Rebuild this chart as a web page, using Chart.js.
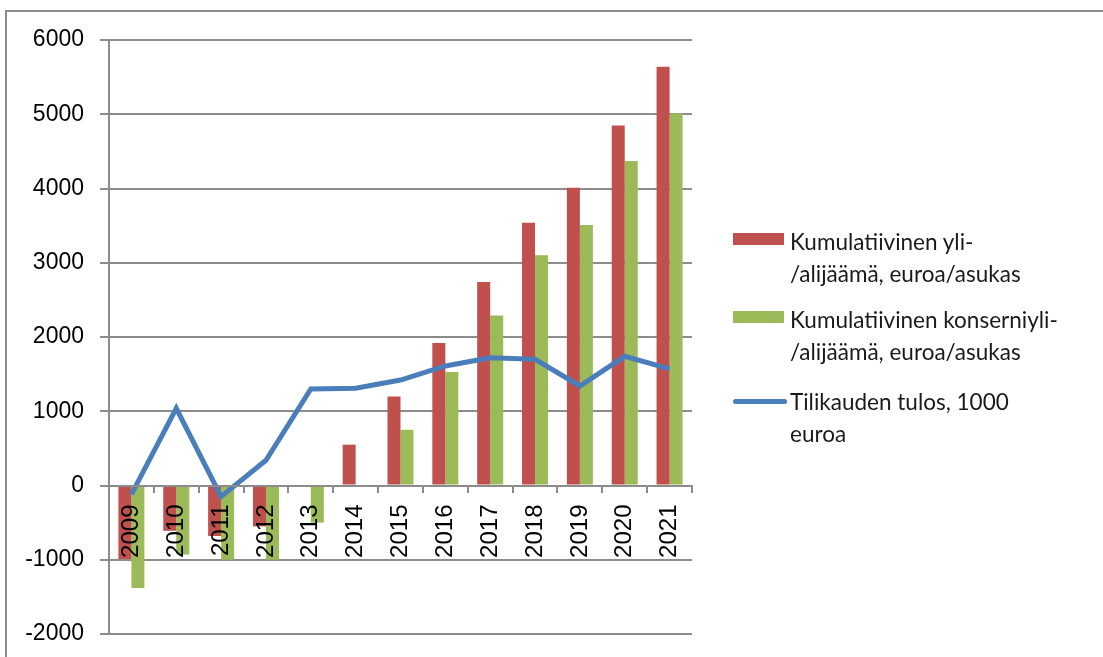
<!DOCTYPE html>
<html>
<head>
<meta charset="utf-8">
<script src="https://cdn.jsdelivr.net/npm/chart.js@4"></script>
<style>
  body { margin: 0; background: #fff; }
  #frame { position: absolute; left: 5px; top: 10px; width: 1110px; height: 660px; border: 2px solid #8c8c8c; }
  #wrap { position: absolute; left: 0; top: 0; width: 1103px; height: 657px; }
  .leg { position: absolute; left: 733px; font-family: Lato, "Open Sans", sans-serif; font-size: 22.5px; line-height: 32px; color: #1a1a1a; }
  .leg .txt { position: absolute; left: 57px; top: 0; white-space: nowrap; }
  .leg .sw { position: absolute; left: 0; }
</style>
</head>
<body>
<div id="frame"></div>
<div id="wrap"><canvas id="chart" width="1103" height="657"></canvas></div>
<div id="legend"></div>
<script>
  const vuodet = ['2009', '2010', '2011', '2012', '2013', '2014', '2015', '2016', '2017', '2018', '2019', '2020', '2021'];
  const kumulatiivinen = [-990, -610, -680, -550, 0, 550, 1200, 1920, 2740, 3540, 4010, 4850, 5640];
  const konserni = [-1380, -930, -1000, -1000, -500, 0, 750, 1530, 2290, 3100, 3510, 4370, 5010];
  const tulos = [-120, 1040, -150, 340, 1300, 1310, 1420, 1610, 1720, 1700, 1340, 1740, 1570];
  const yTicks = [-2000, -1000, 0, 1000, 2000, 3000, 4000, 5000, 6000];

  const nimet = [
    ['Kumulatiivinen yli-', '/alijäämä, euroa/asukas'],
    ['Kumulatiivinen konserniyli-', '/alijäämä, euroa/asukas'],
    ['Tilikauden tulos, 1000', 'euroa']
  ];
  const varit = ['#c0504d', '#9bbb59', '#4a7ebb'];

  const harmaa = '#8c8c8c';
  const ctx = document.getElementById('chart').getContext('2d');

  new Chart(ctx, {
    type: 'bar',
    data: {
      labels: vuodet,
      datasets: [
        {
          type: 'line',
          label: nimet[2].join(' '),
          data: tulos,
          borderColor: varit[2],
          backgroundColor: varit[2],
          borderWidth: 5,
          pointRadius: 0,
          tension: 0,
          order: 0
        },
        {
          label: nimet[0].join(''),
          data: kumulatiivinen,
          backgroundColor: varit[0],
          categoryPercentage: 0.58,
          barPercentage: 1,
          order: 1
        },
        {
          label: nimet[1].join(''),
          data: konserni,
          backgroundColor: varit[1],
          categoryPercentage: 0.58,
          barPercentage: 1,
          order: 2
        }
      ]
    },
    options: {
      responsive: false,
      animation: false,
      layout: { padding: { top: 40, bottom: 23, right: 411, left: 0 } },
      plugins: {
        legend: { display: false },
        tooltip: { enabled: false }
      },
      scales: {
        x: {
          position: { y: 0 },
          afterFit: (scale) => { scale.paddingTop = 0; scale.paddingBottom = 0; },
          grid: { display: true, offset: true, drawOnChartArea: false, drawTicks: true, tickLength: 6, color: harmaa, lineWidth: 2, z: 1 },
          border: { display: true, color: harmaa, width: 2, z: 1 },
          ticks: {
            z: 1,
            minRotation: 90,
            maxRotation: 90,
            padding: 13,
            color: '#000',
            font: { family: '"Liberation Sans", Arial, sans-serif', size: 24 }
          }
        },
        y: {
          min: yTicks[0],
          max: yTicks[yTicks.length - 1],
          afterBuildTicks: (scale) => { scale.ticks = yTicks.map(v => ({ value: v })); },
          afterFit: (scale) => { scale.width = 109; scale.paddingTop = 0; scale.paddingBottom = 0; },
          grid: { color: harmaa, lineWidth: 2, tickLength: 9 },
          border: { display: true, color: harmaa, width: 2 },
          ticks: {
            padding: 16,
            color: '#000',
            callback: (v) => String(v),
            font: { family: '"Liberation Sans", Arial, sans-serif', size: 23 }
          }
        }
      }
    }
  });

  // legend as html, positioned like the original
  const legendTops = [226, 304, 386];
  const legend = document.getElementById('legend');
  nimet.forEach((rivit, i) => {
    const el = document.createElement('div');
    el.className = 'leg';
    el.style.top = legendTops[i] + 'px';
    const sw = document.createElement('div');
    sw.className = 'sw';
    if (i < 2) {
      sw.style.cssText = 'top:7px;width:51px;height:12px;background:' + varit[i];
    } else {
      sw.style.cssText = 'top:13px;width:54px;height:5px;border-radius:3px;background:' + varit[i];
    }
    const txt = document.createElement('div');
    txt.className = 'txt';
    txt.innerHTML = rivit.join('<br>');
    el.appendChild(sw);
    el.appendChild(txt);
    legend.appendChild(el);
  });
</script>
</body>
</html>
